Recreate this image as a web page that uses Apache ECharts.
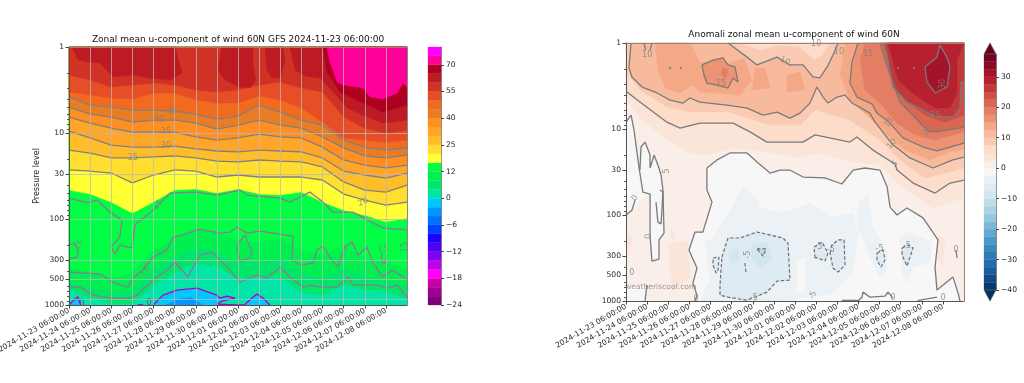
<!DOCTYPE html>
<html><head><meta charset="utf-8">
<style>html,body{margin:0;padding:0;background:#fff}#c{width:1024px;height:383px}</style>
<script src="https://cdn.jsdelivr.net/npm/echarts@6/dist/echarts.min.js"></script>
</head><body><div id="c"></div>
<script>
// ---------- axes ----------
const days=[0,1,2,3,4,5,6,7,8,9,10,11,12,13,14,15,16];
const tickLabels=['2024-11-23 06:00:00','2024-11-24 06:00:00','2024-11-25 06:00:00','2024-11-26 06:00:00','2024-11-27 06:00:00','2024-11-28 06:00:00','2024-11-29 06:00:00','2024-11-30 06:00:00','2024-12-01 06:00:00','2024-12-02 06:00:00','2024-12-03 06:00:00','2024-12-04 06:00:00','2024-12-05 06:00:00','2024-12-06 06:00:00','2024-12-07 06:00:00','2024-12-08 06:00:00'];
const pressureTicks=[1,10,30,100,300,500,850,1000];
const pressureMinor=[2,3,4,5,6,7,8,9,20,40,50,60,70,80,90,200,400,600,700,800,900];
// ---------- colourbars ----------
const leftLevels=[-24,-22,-20,-18,-16,-14,-12,-10,-8,-6,-4,-2,0,4,8,12,15,20,25,30,35,40,45,50,55,60,65,70,75,80];
const leftColors=['#800078','#a00090','#c800a8','#ff00ff','#c000e8','#8000f0','#5000f0','#2000ff','#0040ff','#0070ff','#0098ff','#00c8ff','#00e5a8','#00e668','#00f050','#00ff44','#ffff33','#ffde30','#ffbd2a','#ffa528','#ff8f20','#ea7d24','#f26a1e','#e54e26','#d03226','#be1a24','#b00020','#ff0099','#ff00ff'];
const leftTickValues=[-24,-18,-12,-6,0,12,25,40,55,70];
const rightLevels=[-40,-37.5,-35,-32.5,-30,-27.5,-25,-22.5,-20,-17.5,-15,-12.5,-10,-7.5,-5,-2.5,0,2.5,5,7.5,10,12.5,15,17.5,20,22.5,25,27.5,30,32.5,35,37.5];
const rightTickValues=[-40,-30,-20,-10,0,10,20,30];
const rdbuStops=['#053061','#2166ac','#4393c3','#92c5de','#d1e5f0','#f7f7f7','#fddbc7','#f4a582','#d6604d','#b2182b','#67001f'];

// ---------- left panel: pressure (hPa) of each contour per day ----------
const lTeal=[653,833,953,953,587,425,325,362,486,473,473,708,768,587,671,708,833];
const lG8=[541,636,708,671,371,269,217,242,316,316,284,414,486,371,461,513,603];
const lG12=[371,414,486,414,229,166,127,142,176,185,166,229,262,201,284,316,371];
const lGreenTop=[46.1,51.3,63.6,85.5,63.6,46.1,44.8,49.9,44.8,51.3,52.7,48.6,63.6,78.9,90.3,108,97.9];
const l20=[26.9,27.7,29.2,38.1,30.8,26.9,27.7,32.5,30.8,32.5,32.5,32.5,35.2,51.3,60.3,68.9,63.6];
const l25=[15.8,17.1,19.5,19.5,19.0,18.5,19.5,21.2,21.7,20.6,21.2,21.7,24.8,37.1,46.1,48.6,40.3];
const l30=[9.53,11.4,13.8,14.6,14.6,14.2,15.3,16.2,16.6,15.8,16.2,16.6,19.5,27.7,30.8,33.4,29.2];
const l35=[6.53,7.68,8.79,9.79,9.79,9.79,11.1,12.1,11.4,10.3,11.1,11.4,14.6,20.6,23.6,25.5,23.6];
const l40=[4.99,6.03,6.53,7.47,7.08,7.08,7.68,9.03,8.11,7.08,8.11,8.79,11.1,14.9,18.5,19.5,18.0];
const l45=[3.81,4.73,4.99,5.41,5.41,5.56,6.03,6.89,6.36,4.73,5.71,7.08,8.11,12.1,14.6,15.8,14.9];
const l50=[3.34,3.62,3.92,4.03,3.43,3.43,4.14,4.48,4.48,3.71,4.14,5.13,7.47,11.4,12.1,12.9,12.1];
const l55=[2.12,2.42,2.92,2.77,2.62,2.77,3.16,3.34,3.16,2.77,2.55,3.00,3.34,6.53,8.79,10,9.27];
const lRed1=[[.14,1],[.43,1.42],[.9,1.49],[1.47,1.53],[2.08,2.23],[3.03,2.12],[3.83,2.29],[4.78,2.42],[5.35,2.01],[5.02,1]];
const lRed2=[[7.24,1],[7.05,1.85],[7.38,2.42],[8.09,2.92],[8.57,3.0],[8.85,2.42],[8.71,1.62],[8.71,1]];
const lRed3=[[9.28,1],[9.37,1.85],[9.61,2.29],[9.99,2.29],[10.22,1.49],[10.13,1]];
const lRed4=[[10.46,1],[10.7,1.85],[11.17,2.17],[11.88,2.29],[12.5,3.34],[13.16,5.13],[13.92,6.19],[14.86,7.68],[16,7.08],[16,1]];
const lDark=[[12.02,1],[12.21,1.95],[12.83,3.34],[13.92,4.48],[14.86,5.71],[15.53,5.13],[16,4.73],[16,1]];
const lPink=[[12.21,1],[12.35,1.49],[12.69,2.55],[12.97,2.77],[13.92,3.0],[14.25,3.81],[14.86,4.03],[15.53,3.43],[15.81,2.62],[16,2.92],[16,1]];
const lBlue1=[[3.98,1000],[4.45,768],[5.11,671],[6.06,636],[7.0,768],[7.15,833],[7.48,789],[7.86,833],[7.24,903],[7.0,979],[7.86,995],[8.3,1000]];
const lBlue2=[[8.3,1000],[8.65,833],[8.9,747],[9.2,833],[9.51,1000]];
const lBlue3=[[0,1000],[0,960],[.2,890],[.42,800],[.55,1000]];
const lBlueDeep=[[4.6,1000],[5.2,850],[5.8,820],[6.34,1000]];
const lTiny0=[[3.26,1000],[3.5,990]];
const c15Upper=[[0,57],[.9,65],[1.33,60],[1.94,83],[2.51,103],[2.41,162],[1.99,212],[2.18,255],[2.41,201],[2.79,212],[2.98,217],[3.12,117],[3.98,78.9],[4.78,49.9],[6.06,48.6],[7,52.7],[8.09,46.1],[8.43,52.7],[9.99,57.1],[10.46,63.6],[11.41,48.6],[12.02,63.6],[12.5,83.3],[13.44,83.3],[14.39,111],[14.86,127],[16,134]];
const c15Left=[[0,201],[.28,190],[.43,240],[.4,277],[.14,285],[0,292]];
const c15Mid=[[0,414],[1.47,436],[2.08,541],[2.79,619],[3.03,486],[3.5,392],[3.98,277],[4.64,229],[4.92,162],[5.4,153],[6.2,131],[7.15,146],[7.62,142],[7.95,124],[8.43,146],[9.04,138],[10.6,158],[10.56,300],[10.94,343],[11.55,325],[11.74,229],[12.02,206],[12.35,277],[12.73,362],[13.06,212],[13.4,185],[13.68,262],[14.1,212],[14.39,325],[14.86,473],[15.33,392],[16,513]];
const c15Loop=[[7.95,201],[8.33,153],[8.66,242],[8.57,284],[8.09,308],[7.95,212]];
const c15U=[[14.8,248],[14.8,316],[14.96,325],[15.05,262]];
const c15Low=[[0,619],[.52,619],[1.14,768],[1.94,833],[2.89,833],[3.22,768],[3.98,513],[4.78,371],[5.02,316],[5.63,473],[6.2,262],[6.77,242],[7.48,362],[8.09,541],[8.9,448],[9.37,486],[9.99,362],[10.46,473],[11.08,619],[11.41,587],[11.88,619],[12.69,619],[13.21,473],[13.44,587],[14.58,587],[15.05,636],[15.53,587],[16,811]];
const leftLabels=[[4.88,5.71,'45',0],[4.26,7.08,'40',0],[4.59,9.79,'35',0],[4.59,14.2,'30',0],[3.03,19.5,'25',0],[13.92,63.6,'20',25],[4.21,68.9,'15',55],[.47,201,'15',55],[3.6,403,'15',50],[14.86,229,'15',0],[15.9,212,'15',90]];
const leftZeroLabels=[[.6,979,'0',0],[3.79,953,'0',0]];

// ---------- right panel: pressure (hPa) along anomaly contours ----------
const rZeroMain=[[15.81,1000],[15.72,811],[15.48,527],[14.72,747],[14.63,403],[14.77,195],[14.06,108],[13.3,83],[12.83,100],[12.5,81],[12.36,47],[12.02,30],[11.31,28.4],[10.75,30],[10.22,43.6],[9.42,37.1],[8.38,36.2],[7.76,30],[7.29,30],[6.82,32.5],[6.2,24.2],[5.73,19],[4.92,19],[4.31,22.9],[3.83,28.4],[3.83,51.3],[4.07,70.8],[3.64,158],[3.27,158],[2.98,255],[3.36,414],[3.17,619],[3.36,855],[3.27,1000]];
const rWhite=[[0,8.33],[.24,6.89],[.66,30],[.9,14.2],[1.14,20.1],[1.51,26.2],[1.75,51.3],[1.8,162],[1.56,195],[1.56,325],[1.23,343],[1.14,176],[1.14,57.1],[.66,67.1],[.28,87.9],[0,100]];
const rZeroLeft=[[0,8.33],[.24,6.89],[.38,10.3],[.62,28.4],[.8,54.1],[1.14,57.1],[1.14,176],[1.23,343],[1.56,325],[1.56,195],[1.8,162],[1.75,51.3],[1.66,34.3],[1.51,26.2],[1.33,20.1],[1.14,28.4],[1.14,20.1],[.9,14.2],[.71,16.2],[.66,30]];
const rZeroInner=[[1.42,70.8],[1.51,121],[1.66,127],[1.75,54],[1.61,51.3]];
const rZeroEdge=[[0,100],[.28,87.9],[.43,67]];
const rZeroFoot=[[.99,653],[.9,1000]];
const rZeroBumps=[[10.98,1000],[11.17,903],[11.22,789],[11.55,903],[12.26,879],[12.4,789],[12.64,927]];
const rZeroFlat=[[10.22,985],[10.98,985]];
const rZeroEnd=[[13.8,990],[13.92,975],[14.72,903]];
const rZeroTick=[[15.62,255],[15.67,316]];
const r25Band=[[0,4.61],[.66,7.47],[1.94,13.4],[3.03,19],[3.83,20.1],[5.07,16.6],[6.67,18.5],[8.24,21.7],[9.04,19],[10.75,24.2],[12.02,26.2],[12.83,42.5],[14.53,83],[16,63.6]];
const r5=[[.05,3.71],[.66,4.86],[1.94,8.33],[2.56,9.79],[3.5,8.55],[5.07,8.55],[5.87,10.8],[6.67,14.2],[7.76,14.2],[8.38,14.2],[8.95,11.7],[10.6,14.2],[10.93,12.4],[11.69,17.6],[12.73,25.5],[12.83,30],[13.59,42.5],[14.63,55.6],[15.34,42.5],[16,39.2]];
const r75Band=[[0,2.17],[.66,3.52],[1.94,5.56],[3.03,6.36],[4.92,6.36],[6.82,9.03],[8.24,9.03],[8.95,6.03],[10.6,7.89],[12.02,13.4],[12.97,22.9],[14.15,37.1],[15.34,31.6],[16,28.4]];
const r10=[[.24,1],[.14,1.95],[.28,2.48],[.76,3.25],[1.47,3.81],[2.08,4.61],[2.7,4.99],[3.03,4.36],[3.5,4.86],[4.78,5.27],[5.73,5.71],[6.49,6.89],[7.15,6.36],[7.76,7.47],[8.24,6.53],[8.71,4.99],[9.04,3.25],[9.33,4.25],[9.56,4.99],[9.99,4.25],[10.37,4.03],[10.7,4.99],[11.55,6.53],[11.79,8.33],[12.59,14.9],[13.44,21.7],[14.53,28.4],[15.48,22.9],[16,21.2]];
const r10Top=[[4.83,1],[5.73,1.46],[6.2,1.8],[7.15,1.46],[7.76,1.8],[8.38,1.8],[8.85,2.48],[9.18,2.55],[9.52,1.9],[9.8,1.38],[10.04,1]];
const r75Top=[[5.4,1],[6.34,1.21],[7.29,1.05],[8.24,1.11],[8.95,1.58],[9.28,1.38],[9.66,1]];
const r10TickA=[[.85,1],[.93,1.21]];
const r10TickB=[[1.14,1.21],[1.23,1]];
const r125Right=[[10.37,1],[10.13,2.36],[10.6,4.61],[11.55,7.47],[12.36,11.7],[13.2,17.6],[14.39,22.9],[15.34,18.5],[16,17.6],[16,1]];
const r125A=[[1.37,1],[1.51,2.06],[1.85,3.34],[2.56,3.81],[3.12,3.08],[3.5,3.71],[5.4,4.03],[5.96,2.69],[5.6,1.5],[4.9,1.7],[3.5,1.66],[3.03,1]];
const r125B=[[6.11,1.95],[6.58,1.95],[6.82,3.34],[5.96,3.52]];
const r125C=[[7.62,2.36],[8.24,2.17],[8.48,3.52],[7.62,3.71]];
const r15Loop=[[3.6,1.8],[4.12,1.58],[4.59,1.49],[4.83,1.8],[5.16,1.9],[5.3,2.84],[5.07,2.55],[4.83,3.34],[4.31,3.08],[3.83,2.92],[3.69,2.36],[3.6,1.8]];
const r175Core=[[4.6,1.9],[4.85,2.1],[4.7,2.6],[4.5,2.3]];
const r15=[[10.98,1],[10.7,1.66],[10.6,2.92],[10.93,4.25],[11.65,5.13],[11.88,6.53],[12.45,8.33],[13.11,12.7],[14.06,16.2],[14.72,18],[16,14.6]];
const r175=[[11.31,1],[11.08,1.58],[11.31,3.52],[12.02,4.99],[12.83,8.55],[13.68,11.7],[14.63,13.4],[16,10.8]];
const r20=[[12.02,1],[12.5,2.36],[12.97,4.86],[14.3,10.6],[14.72,10.8],[16,9.53]];
const r225=[[12.17,1],[12.64,2.36],[13.2,4.61],[14.15,6.89],[15.1,8.33],[16,6.89]];
const r25=[[12.26,1],[12.64,3.25],[13.3,4.86],[14.63,7.08],[15.48,7.28],[15.81,5.71],[15.86,2.84],[16,2.84]];
const r275=[[12.4,1],[12.88,2.69],[13.54,3.81],[14.63,5.71],[15.34,5.71],[15.67,3.81],[15.67,1.58],[16,1]];
const r30Loop=[[14.86,1.05],[15.2,1.49],[15.34,1.9],[15.2,3.25],[14.63,3.81],[14.25,2.84],[14.15,1.9],[14.72,1.46],[14.86,1.05]];
const rDots=[[2.08,1.95],[2.6,1.95],[12.88,1.95],[13.63,1.95]];
const rPatchA=[[2.0,213],[2.93,200],[3.03,540],[2.18,760]];
const rPatchB=[[2.08,150],[2.37,170],[2.2,200]];
const rPatchC=[[.05,165],[.33,185],[.1,270]];
const rPatchD=[[14.77,170],[15.1,190],[15.0,400],[14.77,340]];
const rBlue1=[[3.74,206],[4.12,185],[5.02,81],[5.54,47],[6.2,62],[6.34,81],[7.29,95],[8.24,81],[8.71,73],[9.8,106],[10.75,95],[10.98,171],[10.7,473],[9.8,811],[8.24,927],[7.76,1000],[3.5,1000],[3.98,571]];
const rBlue2=[[10.98,70.8],[11.46,58.7],[11.65,138],[12.4,277],[12.26,499],[12.02,527],[11.55,308],[10.98,138]];
const rBlue3=[[12.97,195],[13.3,158],[13.92,180],[14.49,206],[14.39,362],[13.59,403],[13.3,619],[13.07,473]];
const rPale=[[8.1,334],[8.52,316],[8.52,747],[8.1,811]];
const rV1=[[4.83,277],[5.25,242],[5.4,334],[5.02,381]];
const rV2=[[5.96,223],[6.67,206],[6.96,334],[6.34,414],[5.96,316]];
const dBig=[[4.54,308],[4.83,185],[5.4,185],[6.2,158],[7.43,185],[7.67,212],[7.76,571],[7.15,587],[6.67,789],[5.73,979],[4.83,903],[4.45,855],[4.45,653],[4.54,308]];
const dInner=[[6.2,248],[6.63,248],[6.49,300],[6.2,248]];
const dSmall=[[4.12,316],[4.4,308],[4.36,436],[4.26,473],[4.12,381],[4.12,316]];
const dTiny=[[5.63,362],[5.68,473]];
const dA=[[8.95,316],[8.9,236],[9.28,206],[9.56,277],[9.42,343],[9.09,316],[8.95,316]];
const dB=[[9.66,277],[9.75,223],[10.04,195],[10.32,195],[10.37,381],[10.04,461],[9.8,414],[9.66,277]];
const dC=[[11.88,277],[12.17,255],[12.26,334],[12.07,403],[11.88,334],[11.88,277]];
const dD=[[13.07,242],[13.35,223],[13.59,242],[13.3,392],[13.07,292],[13.07,242]];
const rightLabels=[[1,1.38,'10',0],[7.53,1.62,'10',-25],[10.08,1.27,'10',0],[9.0,1.03,'10',0],[4.5,3.0,'15',0],[11.46,1.34,'15',0],[14.63,7.08,'25',0],[14.3,10.6,'20',40],[12.45,8.33,'15',50],[12.59,14.9,'10',50],[12.73,25.5,'5',45],[15.0,3.0,'30',90],[1.94,30.8,'5',90],[.43,63.6,'0',60],[1.09,176,'0',90],[.28,473,'0',0],[3.31,953,'0',0],[12.64,927,'0',0],[15.01,927,'0',0],[15.62,255,'0',0],[9.1,235,'-5',0],[9.7,255,'-5',0],[12.0,250,'-5',0],[13.3,230,'-5',0],[5.75,290,'-5',90],[8.85,855,'-5',70],[6.05,930,'-5',0]];

// ---------- helpers (no marks typed as pixels) ----------
const hex=c=>[1,3,5].map(i=>parseInt(c.substr(i,2),16));
function rdbu(v){
  const t=Math.max(0,Math.min(1,(v+40)/77.5))*(rdbuStops.length-1);
  const i=Math.min(rdbuStops.length-2,Math.floor(t)),f=t-i;
  const a=hex(rdbuStops[i]),b=hex(rdbuStops[i+1]);
  return 'rgb('+a.map((x,k)=>Math.round(x+(b[k]-x)*f)).join(',')+')';
}
const bandRight=lo=>rdbu(lo+1.25);
const bandLeft=lo=>leftColors[leftLevels.indexOf(lo)];
const curve=a=>days.map((d,i)=>[d,a[i]]);
const fillAbove=a=>[[a[0][0],1]].concat(a,[[a[a.length-1][0],1]]);
const FULL=[[0,1],[16,1],[16,1000],[0,1000]];

const leftLayers=[
 [FULL,bandLeft(0)],
 [fillAbove(curve(lTeal)),bandLeft(4)],
 [fillAbove(curve(lG8)),bandLeft(8)],
 [fillAbove(curve(lG12)),bandLeft(12)],
 [fillAbove(curve(lGreenTop)),bandLeft(15)],
 [fillAbove(curve(l20)),bandLeft(20)],
 [fillAbove(curve(l25)),bandLeft(25)],
 [fillAbove(curve(l30)),bandLeft(30)],
 [fillAbove(curve(l35)),bandLeft(35)],
 [fillAbove(curve(l40)),bandLeft(40)],
 [fillAbove(curve(l45)),bandLeft(45)],
 [fillAbove(curve(l50)),bandLeft(50)],
 [fillAbove(curve(l55)),bandLeft(55)],
 [lRed1,bandLeft(60)],[lRed2,bandLeft(60)],[lRed3,bandLeft(60)],[lRed4,bandLeft(60)],
 [lDark,bandLeft(65)],[lPink,bandLeft(70)],
 [lBlue1,bandLeft(-2)],[lBlue2,bandLeft(-2)],[lBlue3,bandLeft(-2)],[lBlueDeep,bandLeft(-4)]
];
const rightLayers=[
 [FULL,bandRight(-2.5)],
 [[[0,1],[16,1],[16,1000]].concat(rZeroMain,[[.9,1000],[.99,653],[0,653]]),bandRight(0)],
 [rWhite,bandRight(-2.5)],
 [rPatchA,bandRight(2.5)],[rPatchB,bandRight(2.5)],[rPatchC,bandRight(2.5)],[rPatchD,bandRight(2.5)],
 [rBlue1,bandRight(-5)],[rBlue2,bandRight(-5)],[rBlue3,bandRight(-5)],[rPale,bandRight(-2.5)],
 [dBig,bandRight(-7.5)],[dA,bandRight(-7.5)],[dB,bandRight(-7.5)],[dC,bandRight(-7.5)],[dD,bandRight(-7.5)],[dSmall,bandRight(-7.5)],
 [rV1,bandRight(-10)],[rV2,bandRight(-10)],[dInner,bandRight(-12.5)],
 [fillAbove(r25Band),bandRight(2.5)],
 [fillAbove(r5),bandRight(5)],
 [fillAbove(r75Band),bandRight(7.5)],
 [[[.24,1]].concat(r10,[[16,1]]),bandRight(10)],
 [r10Top,bandRight(7.5)],[r75Top,bandRight(5)],
 [r125Right,bandRight(12.5)],[r125A,bandRight(12.5)],[r125B,bandRight(12.5)],[r125C,bandRight(12.5)],
 [r15Loop,bandRight(15)],[r175Core,bandRight(17.5)],
 [fillAbove(r15).concat([[16,1]]),bandRight(15)],
 [fillAbove(r175),bandRight(17.5)],
 [fillAbove(r20),bandRight(20)],
 [fillAbove(r225),bandRight(22.5)],
 [fillAbove(r25).concat([[16,1]]),bandRight(25)],
 [r275,bandRight(27.5)],
 [r30Loop,bandRight(30)]
];

function layerSeries(layers,idx){
  return {type:'custom',xAxisIndex:idx,yAxisIndex:idx,z:1,silent:true,animation:false,
    data:layers.map((l,i)=>[i,1]),encode:{x:0,y:1},
    renderItem:(p,api)=>({type:'polygon',
      shape:{points:layers[p.dataIndex][0].map(v=>api.coord(v))},
      style:{fill:layers[p.dataIndex][1],stroke:layers[p.dataIndex][1],lineWidth:.4}})};
}
function line(data,idx,color,width,type){
  return {type:'line',xAxisIndex:idx,yAxisIndex:idx,data,symbol:'none',z:2,silent:true,animation:false,clip:true,
    lineStyle:{color,width:width||1.3,type:type||'solid'}};
}
function labels(data,idx,color){
  return {type:'scatter',xAxisIndex:idx,yAxisIndex:idx,z:3,silent:true,animation:false,symbolSize:0,
    data:data.map(d=>({value:[d[0],d[1]],label:{formatter:d[2],rotate:d[3]}})),
    label:{show:true,position:'inside',color,fontSize:8,fontFamily:'DejaVu Sans'}};
}

const FONT='DejaVu Sans',TXT='#262626',GREY='#808080',GREYG='#8a7a92',MAG='#b000c0';
const lineLeft=[l45,l40,l35,l30,l25,l20].map(a=>line(curve(a),0,GREY));
const lineLeft15=[c15Upper,c15Left,c15Mid,c15Loop,c15U,c15Low].map(a=>line(a,0,GREYG));
const lineLeft0=[lBlue1,lBlue2,lBlue3,lTiny0].map(a=>line(a,0,MAG));
const lineR=[rZeroMain,rZeroLeft,rZeroInner,rZeroEdge,rZeroFoot,rZeroBumps,rZeroFlat,rZeroEnd,rZeroTick,r5,r10,r10Top,r10TickA,r10TickB,r15Loop,r15,r20,r25,r30Loop].map(a=>line(a,1,'#7a7a7a'));
const lineRd=[dBig,dInner,dSmall,dTiny,dA,dB,dC,dD].map(a=>line(a,1,'#6e6e6e',1.2,[3.5,2]));

const GRIDC='rgba(185,185,185,.75)';
const xAx=(grid,z,split)=>({type:'value',gridIndex:grid,min:0,max:16,z,
  axisLine:{onZero:false,lineStyle:{color:'#555'}},
  axisTick:{length:3.5,lineStyle:{color:'#444'},customValues:days.slice(0,16)},
  axisLabel:{customValues:days.slice(0,16),formatter:v=>tickLabels[v],rotate:30,fontSize:7.6,fontFamily:FONT,color:TXT,margin:5,hideOverlap:false,showMinLabel:true,showMaxLabel:true},
  splitLine:{show:split,lineStyle:{color:GRIDC,width:1}}});
const yAx=(grid,z,split,name)=>({type:'log',logBase:10,gridIndex:grid,min:1,max:1000,inverse:true,z,
  name,nameLocation:'middle',nameGap:27,nameTextStyle:{fontSize:8,fontFamily:FONT,color:TXT},
  axisLine:{onZero:false,lineStyle:{color:'#555'}},
  axisTick:{length:3.5,lineStyle:{color:'#444'},customValues:pressureTicks},
  axisLabel:{customValues:pressureTicks,fontSize:7.6,fontFamily:FONT,color:TXT,margin:5,hideOverlap:false,showMinLabel:true,showMaxLabel:true,formatter:v=>String(Math.round(v))},
  splitLine:{show:split,lineStyle:{color:GRIDC,width:1}},minorTick:{show:false},minorSplitLine:{show:false}});
const yMinor=(grid,z)=>({type:'log',logBase:10,gridIndex:grid,min:1,max:1000,inverse:true,z,position:'left',
  axisLine:{show:false,onZero:false},axisTick:{length:2,lineStyle:{color:'#555'},customValues:pressureMinor},
  axisLabel:{show:false},splitLine:{show:false}});
const edgeX=(grid,z)=>({type:'value',gridIndex:grid,min:0,max:16,position:'top',z,
  axisLine:{onZero:false,lineStyle:{color:'#888'}},axisTick:{show:false},axisLabel:{show:false},splitLine:{show:false}});
const edgeY=(grid,z)=>({type:'log',logBase:10,gridIndex:grid,min:1,max:1000,inverse:true,position:'right',z,
  axisLine:{onZero:false,lineStyle:{color:'#888'}},axisTick:{show:false},axisLabel:{show:false},splitLine:{show:false}});

// colourbar axes
const cbX=g=>({type:'value',gridIndex:g,min:0,max:1,axisLine:{show:false},axisTick:{show:false},axisLabel:{show:false},splitLine:{show:false}});
const fmtMinus=v=>String(v).replace('-','\u2212');
const leftIdx=leftTickValues.map(v=>leftLevels.indexOf(v));
const cbLeftY={type:'value',gridIndex:2,min:0,max:leftLevels.length-1,position:'right',
  axisLine:{show:true,onZero:false,lineStyle:{color:'#888'}},
  axisTick:{length:3,lineStyle:{color:'#444'},customValues:leftIdx},
  axisLabel:{customValues:leftIdx,formatter:v=>fmtMinus(leftLevels[v]),fontSize:7.6,fontFamily:FONT,color:TXT,margin:5,showMinLabel:true,hideOverlap:false},splitLine:{show:false}};
const cbRightY={type:'value',gridIndex:3,min:-40,max:37.5,position:'right',
  axisLine:{show:true,onZero:false,lineStyle:{color:'#888'}},
  axisTick:{length:3,lineStyle:{color:'#444'},customValues:rightTickValues},
  axisLabel:{customValues:rightTickValues,formatter:fmtMinus,fontSize:7.6,fontFamily:FONT,color:TXT,margin:5,showMinLabel:true,hideOverlap:false},splitLine:{show:false}};
const cbLeft={type:'custom',xAxisIndex:2,yAxisIndex:3,silent:true,animation:false,z:1,
  data:leftColors.map((c,i)=>[i,i+1]),encode:{y:[0,1]},
  renderItem:(p,api)=>{const a=api.coord([0,api.value(0)]),b=api.coord([1,api.value(1)]);
    return {type:'rect',shape:{x:a[0],y:b[1],width:b[0]-a[0],height:a[1]-b[1]},style:{fill:leftColors[p.dataIndex],stroke:leftColors[p.dataIndex],lineWidth:.3}};}};
const cbRight={type:'custom',xAxisIndex:3,yAxisIndex:4,silent:true,animation:false,z:1,
  data:rightLevels.slice(0,-1).map((v,i)=>[v,rightLevels[i+1]]),encode:{y:[0,1]},
  renderItem:(p,api)=>{const a=api.coord([0,api.value(0)]),b=api.coord([1,api.value(1)]),c=bandRight(api.value(0));
    return {type:'rect',shape:{x:a[0],y:b[1],width:b[0]-a[0],height:a[1]-b[1]},style:{fill:c,stroke:c,lineWidth:.3}};}};
const cbTips={type:'custom',xAxisIndex:3,yAxisIndex:4,silent:true,animation:false,z:1,
  data:[[37.5,41.2,37.5],[-40,-43.7,-42.5]],encode:{y:0},
  renderItem:(p,api)=>{const b=api.value(0),t=api.value(1),c=rdbu(api.value(2));
    return {type:'polygon',shape:{points:[api.coord([0,b]),api.coord([1,b]),api.coord([.5,t])]},style:{fill:c,stroke:'#777',lineWidth:.6}};}};

const chart=echarts.init(document.getElementById('c'),null,{renderer:'canvas'});
chart.setOption({
  animation:false,
  backgroundColor:'#fff',
  title:[
    {text:'Zonal mean u-component of wind 60N GFS 2024-11-23 06:00:00',left:233,top:30,textAlign:'center',textStyle:{fontSize:9,fontWeight:'normal',fontFamily:FONT,color:'#111'}},
    {text:'Anomali zonal mean u-component of wind 60N',left:789,top:25.5,textAlign:'center',textStyle:{fontSize:9,fontWeight:'normal',fontFamily:FONT,color:'#111'}}
  ],
  grid:[
    {left:69,top:47,width:338,height:258,outerBoundsMode:'none'},
    {left:626,top:43,width:338,height:258,outerBoundsMode:'none'},
    {left:428,top:47,width:13,height:258,outerBoundsMode:'none'},
    {left:984,top:54,width:12,height:236,outerBoundsMode:'none'}
  ],
  xAxis:[xAx(0,5,true),xAx(1,5,false),cbX(2),cbX(3),edgeX(0,5),edgeX(1,5)],
  yAxis:[yAx(0,5,true,'Pressure level'),yAx(1,5,false,''),yMinor(0,5),cbLeftY,cbRightY,yMinor(1,5),edgeY(0,5),edgeY(1,5)],
  series:[layerSeries(leftLayers,0),layerSeries(rightLayers,1),cbLeft,cbRight,cbTips]
    .concat(lineLeft,lineLeft15,lineLeft0,lineR,lineRd,
      [labels(leftLabels,0,GREY),labels(leftZeroLabels,0,MAG),labels(rightLabels,1,GREY),
       {type:'scatter',xAxisIndex:1,yAxisIndex:1,z:3,silent:true,animation:false,symbolSize:2.5,itemStyle:{color:'#7a7a7a'},data:rDots}]),
  graphic:[{type:'text',left:625,top:283,z:20,silent:true,style:{text:'weatheriscool.com',fontSize:7.6,fontFamily:FONT,fill:'rgba(90,90,90,.6)'}}]
});
</script></body></html>
